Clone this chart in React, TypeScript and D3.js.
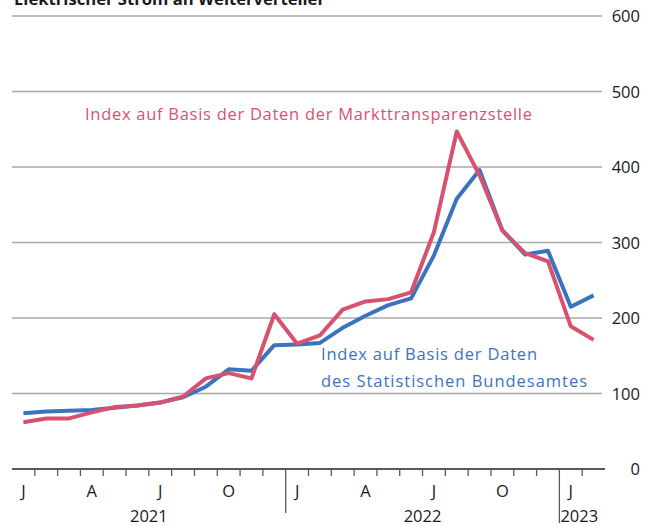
import React from "react";
import * as d3 from "d3";

const months: string[] = [
  "2021-01","2021-02","2021-03","2021-04","2021-05","2021-06","2021-07","2021-08","2021-09","2021-10","2021-11","2021-12",
  "2022-01","2022-02","2022-03","2022-04","2022-05","2022-06","2022-07","2022-08","2022-09","2022-10","2022-11","2022-12",
  "2023-01","2023-02",
];
const destatis: number[] = [74, 76, 77, 78, 81, 84, 88, 95, 109, 132, 130, 164, 165, 167, 187, 203, 217, 226, 283, 358, 396, 316, 284, 289, 215, 230];
const markt: number[] = [62, 67, 67, 75, 82, 84, 88, 96, 120, 127, 120, 205, 166, 177, 211, 222, 225, 234, 314, 447, 389, 316, 286, 275, 189, 171];
const yTicks: number[] = [0, 100, 200, 300, 400, 500, 600];
const monthLabels: string[] = ["J", "", "", "A", "", "", "J", "", "", "O", "", ""];
const years: string[] = ["2021", "2022", "2023"];
const title = "Elektrischer Strom an Weiterverteiler";
const labelMarkt = "Index auf Basis der Daten der Markttransparenzstelle";
const labelDestatis = ["Index auf Basis der Daten", "des Statistischen Bundesamtes"];

const W = 650, H = 526;
const FONT = "'Open Sans', 'Noto Sans', sans-serif";

export default function App() {
  const x = d3.scaleLinear().domain([0, 26]).range([12, 605]);
  const y = d3.scaleLinear().domain([0, 600]).range([469, 16]);
  const line = d3.line<number>().x((_, i) => x(i + 0.5)).y((d) => y(d));
  const blue = "#3b74bd";
  const red = "#d8526f";

  return (
    <svg width={W} height={H} style={{ position: "absolute", left: 0, top: 0 }} fontFamily={FONT}>
      <rect width={W} height={H} fill="#fff" />
      <text x={14} y={5} fontSize={15.5} fontWeight="bold" fill="#1a1a1a" textLength={311} lengthAdjust="spacingAndGlyphs">{title}</text>
      {yTicks.filter((t) => t > 0).map((t) => (
        <line key={t} x1={12} x2={602} y1={y(t)} y2={y(t)} stroke="#a8a8a8" strokeWidth={1.5} />
      ))}
      {yTicks.map((t) => (
        <text key={"l" + t} x={640} y={y(t) + 6} textAnchor="end" fontSize={16.5} fill="#1a1a1a">{t}</text>
      ))}
      <line x1={12} x2={605} y1={y(0)} y2={y(0)} stroke="#5a5a5a" strokeWidth={2} />
      {d3.range(1, 26).map((i) => {
        const len = i === 12 ? 44 : i === 24 ? 54 : 7;
        return <line key={"t" + i} x1={x(i)} x2={x(i)} y1={y(0)} y2={y(0) + len} stroke="#5a5a5a" strokeWidth={1.3} />;
      })}
      {months.map((m, i) => {
        const lab = monthLabels[i % 12];
        return lab ? (
          <text key={"m" + i} x={x(i + 0.5)} y={497} textAnchor="middle" fontSize={16.5} fill="#1a1a1a">{lab}</text>
        ) : null;
      })}
      <text x={(x(0) + x(12)) / 2} y={522} textAnchor="middle" fontSize={16.5} fill="#1a1a1a">{years[0]}</text>
      <text x={(x(12) + x(24)) / 2} y={522} textAnchor="middle" fontSize={16.5} fill="#1a1a1a">{years[1]}</text>
      <text x={x(24) + 1} y={522} textAnchor="start" fontSize={16.5} fill="#1a1a1a">{years[2]}</text>
      <path d={line(destatis) || ""} fill="none" stroke={blue} strokeWidth={4} strokeLinejoin="round" />
      <path d={line(markt) || ""} fill="none" stroke={red} strokeWidth={4} strokeLinejoin="round" />
      <text x={85} y={120} fontSize={16.5} fill={red} textLength={447} lengthAdjust="spacing">{labelMarkt}</text>
      <text x={321} y={360} fontSize={16.5} fill={blue} textLength={216} lengthAdjust="spacing">{labelDestatis[0]}</text>
      <text x={321} y={387} fontSize={16.5} fill={blue} textLength={266} lengthAdjust="spacing">{labelDestatis[1]}</text>
    </svg>
  );
}
